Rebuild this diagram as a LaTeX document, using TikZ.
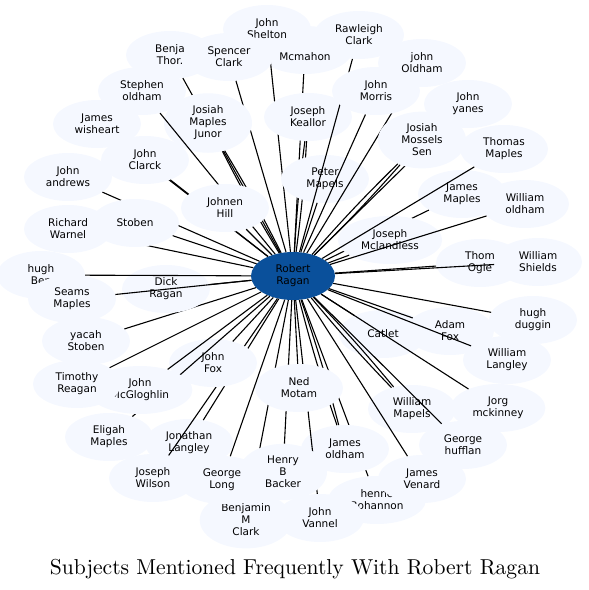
\documentclass[tikz,border=0pt]{standalone}
\usepackage{fontspec}
\usepackage{xcolor}
\usepackage{tikz}
\usetikzlibrary{shapes}
\newfontfamily\namefont{DejaVu Sans}
\newfontfamily\titlefont{lmroman10-regular}[Extension=.otf]
\definecolor{palesky}{RGB}{245,248,255}
\definecolor{hubblue}{RGB}{10,80,155}
\tikzstyle{person} = [ellipse, fill=palesky, text centered, align=center, inner xsep=8pt, inner ysep=4pt,
    minimum width=88pt, minimum height=48pt, font=\namefont\fontsize{10.5}{12}\selectfont]
\tikzstyle{hub} = [ellipse, fill=hubblue, text centered, align=center, inner sep=1pt,
    minimum width=84pt, minimum height=48pt, font=\namefont\fontsize{10.5}{12}\selectfont]
\tikzstyle{line} = [draw, line width=1.1pt]
\tikzstyle{twin} = [draw, line width=1.1pt, bend left=2]
\tikzstyle{twinb} = [draw, line width=1.1pt, bend right=2]

\begin{document}
\begin{tikzpicture}[x=1pt,y=-1pt]
  \useasboundingbox (0,0) rectangle (589,590);
      \node [hub] (ragan) at (293,276) {Robert\\Ragan};

      % top
      \node [person] (mcmahon) at (305,50) {\strut\\Mcmahon};
      \path [line] (ragan) -- (mcmahon);
      \node [person] (benja) at (170,55) {Benja\\Thor.};
      \path [line] (ragan) -- (benja);
      \node [person] (shelton) at (267,29) {John\\Shelton};
      \path [line] (ragan) -- (shelton);
      \node [person] (spencer) at (229,57) {Spencer\\Clark};
      \path [line] (ragan) -- (spencer);
      \node [person] (keallor) at (308,117) {Joseph\\Keallor};
      \path [twin] (ragan) to (keallor);
      \path [twinb] (ragan) to (keallor);
      \node [person] (peter) at (325,179) {Peter\\Mapels};
      \path [line] (ragan) -- (peter);
      \node [person] (rawleigh) at (359,35) {Rawleigh\\Clark};
      \path [line] (ragan) -- (rawleigh);
      \node [person] (joldham) at (422,63) {john\\Oldham};
      \path [line] (ragan) -- (joldham);
      \node [person] (morris) at (376,91) {John\\Morris};
      \path [line] (ragan) -- (morris);
      \node [person] (yanes) at (468,104) {John\\yanes};
      \path [line] (ragan) -- (yanes);
      \node [person] (mossels) at (422,140) {Josiah\\Mossels\\Sen};
      \path [twin] (ragan) to (mossels);
      \path [twinb] (ragan) to (mossels);

      % right
      \node [person] (jmaples) at (462,194) {James\\Maples};
      \path [line] (ragan) -- (jmaples);
      \node [person] (mclandless) at (390,240) {Joseph\\Mclandless};
      \path [line] (ragan) -- (mclandless);
      \node [person] (tmaples) at (504,149) {Thomas\\Maples};
      \path [line] (ragan) -- (tmaples);
      \node [person] (woldham) at (525,204) {William\\oldham};
      \path [line] (ragan) -- (woldham);
      \node [person] (ogle) at (480,263) {Thom\\Ogle};
      \path [line] (ragan) -- (ogle);
      \node [person] (shields) at (538,262) {William\\Shields};
      \path [line] (ragan) -- (shields);
      \node [person] (catlet) at (383,334) {Catlet};
      \path [line] (ragan) -- (catlet);
      \node [person] (adam) at (450,331) {Adam\\Fox};
      \path [line] (ragan) -- (adam);
      \node [person] (duggin) at (533,320) {hugh\\duggin};
      \path [line] (ragan) -- (duggin);
      \node [person] (wlangley) at (507,360) {William\\Langley};
      \path [line] (ragan) -- (wlangley);
      \node [person] (jorg) at (498,408) {Jorg\\mckinney};
      \path [line] (ragan) -- (jorg);
      \node [person] (wmapels) at (412,409) {William\\Mapels};
      \path [twin] (ragan) to (wmapels);
      \path [twinb] (ragan) to (wmapels);
      \node [person] (hufflan) at (463,445) {George\\hufflan};
      \path [line] (ragan) -- (hufflan);

      % bottom
      \node [person] (hennery) at (377,500) {henne\\Bohannon};
      \path [line] (ragan) -- (hennery);
      \node [person] (venard) at (422,479) {James\\Venard};
      \path [line] (ragan) -- (venard);
      \node [person] (jamesoldham) at (345,449) {James\\oldham};
      \path [twin] (ragan) to (jamesoldham);
      \path [twinb] (ragan) to (jamesoldham);
      \node [person] (vannel) at (320,518) {John\\Vannel};
      \path [line] (ragan) -- (vannel);
      \node [person] (bmclark) at (246,520) {Benjamin\\M\\Clark};
      \path [line] (ragan) -- (bmclark);
      \node [person] (backer) at (283,472) {Henry\\B\\Backer};
      \path [line] (ragan) -- (backer);
      \node [person] (ned) at (299,388) {Ned\\Motam};
      \path [line] (ragan) -- (ned);
      \node [person] (glong) at (222,480) {George\\Long};
      \path [line] (ragan) -- (glong);
      \node [person] (jonathan) at (189,443) {Jonathan\\Langley};
      \path [line] (ragan) -- (jonathan);
      \node [person] (wilson) at (153,478) {Joseph\\Wilson};
      \path [line] (ragan) -- (wilson);
      \node [person] (fox) at (213,363) {John\\Fox};
      \path [line] (ragan) -- (fox);

      % left
      \node [person] (eligah) at (109,437) {Eligah\\Maples};
      \path [line] (ragan) -- (eligah);
      \node [person] (mcgloghlin) at (140,390) {John\\McGloghlin};
      \path [line] (ragan) -- (mcgloghlin);
      \node [person] (timothy) at (77,384) {Timothy\\Reagan};
      \path [line] (ragan) -- (timothy);
      \node [person] (yacah) at (86,341) {yacah\\Stoben};
      \path [line] (ragan) -- (yacah);
      \node [person] (dick) at (166,289) {Dick\\Ragan};
      \path [line] (ragan) -- (dick);
      \node [person] (hughben) at (41,275) {hugh\\Ben};
      \path [line] (ragan) -- (hughben);
      \node [person] (seams) at (72,299) {Seams\\Maples};
      \path [line] (ragan) -- (seams);
      \node [person] (warnel) at (68,229) {Richard\\Warnel};
      \path [line] (ragan) -- (warnel);
      \node [person] (andrews) at (68,177) {John\\andrews};
      \path [line] (ragan) -- (andrews);
      \node [person] (stoben) at (135,223) {Stoben};
      \path [line] (ragan) -- (stoben);
      \node [person] (wisheart) at (97,124) {James\\wisheart};
      \path [line] (ragan) -- (wisheart);
      \node [person] (clarck) at (145,160) {John\\Clarck};
      \path [line] (ragan) -- (clarck);
      \node [person] (junor) at (208,123) {Josiah\\Maples\\Junor};
      \path [twin] (ragan) to (junor);
      \path [twinb] (ragan) to (junor);
      \node [person] (stephen) at (142,91) {Stephen\\oldham};
      \path [line] (ragan) -- (stephen);
      \node [person] (johnen) at (225,208) {Johnen\\Hill};
      \path [line] (ragan) -- (johnen);

      \node [font=\titlefont\fontsize{21.6}{26}\selectfont] (title) at (295,569) {Subjects Mentioned Frequently With Robert Ragan};
\end{tikzpicture}
\end{document}
